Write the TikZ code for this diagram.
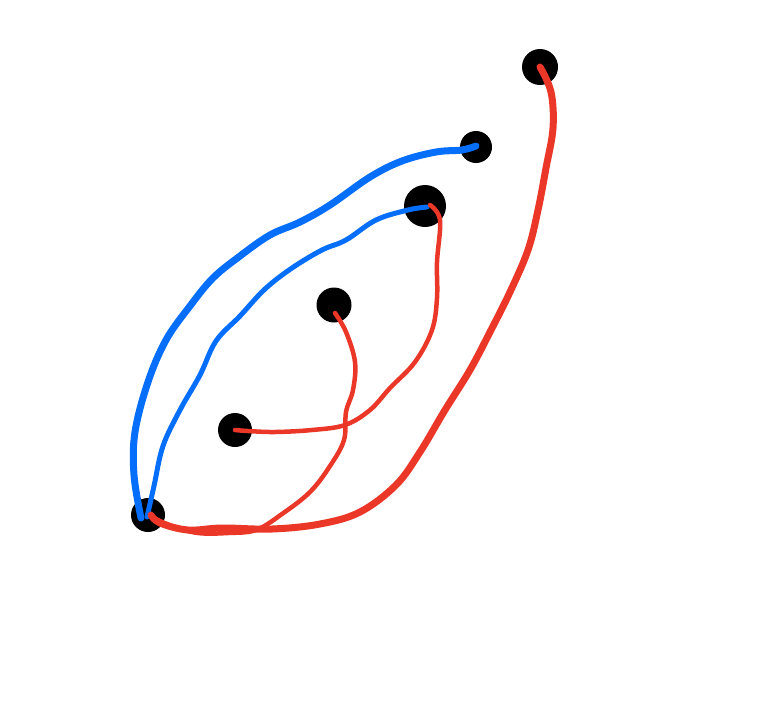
\documentclass[tikz,border=0pt]{standalone}
\usepackage{xcolor}
\usepackage{tikz}
\definecolor{strokeblue}{RGB}{5, 110, 250}
\definecolor{strokered}{RGB}{235, 55, 40}
\tikzset{
  dot/.style={circle, fill=black, inner sep=0pt, minimum size=#1},
  stroke/.style={line cap=round, line join=round},
}

\begin{document}
\begin{tikzpicture}[x=1pt, y=-1pt]
\useasboundingbox (0,0) rectangle (783,720);

% vertices
\node[dot=34pt] (a) at (148,515) {};
\node[dot=34pt] (b) at (235,430) {};
\node[dot=35pt] (c) at (334,305) {};
\node[dot=42pt] (d) at (425,206) {};
\node[dot=32pt] (e) at (476,147) {};
\node[dot=36pt] (f) at (540,67) {};

% blue strokes
\draw[stroke, strokeblue, line width=7pt] plot[smooth, tension=0.6] coordinates
  {(141,518) (134,475) (135,432) (148,382) (166,340) (190,306) (213,278)
   (240,256) (270,235) (300,222) (330,205) (370,177) (402,161) (436,152)
   (462,150) (476,146)};
\draw[stroke, strokeblue, line width=5pt] plot[smooth, tension=0.6] coordinates
  {(147,517) (154,486) (163,446) (180,410) (200,375) (216,341) (240,316)
   (265,289) (292,268) (322,250) (346,240) (376,220) (408,210) (427,207)};

% red strokes
\draw[stroke, strokered, line width=4.5pt] plot[smooth, tension=0.6] coordinates
  {(b.center) (248,431) (275,432) (312,430) (345,425) (370,410) (390,388)
   (415,362) (432,330) (437,298) (437,262) (440,220) (430,205)};
\draw[stroke, strokered, line width=4.5pt] plot[smooth, tension=0.6] coordinates
  {(335,313) (346,332) (355,362) (353,390) (346,412) (344,440) (330,466)
   (310,492) (282,514) (256,530) (228,533) (198,533) (172,526) (154,518)};
\draw[stroke, strokered, line width=7pt] plot[smooth, tension=0.6] coordinates
  {(f.center) (551,92) (553,128) (546,168) (538,210) (528,250) (510,292)
   (490,332) (470,370) (445,410) (420,452) (396,485) (360,512) (320,524)
   (272,529) (222,528) (188,530) (160,523) (151,515)};

\end{tikzpicture}
\end{document}
